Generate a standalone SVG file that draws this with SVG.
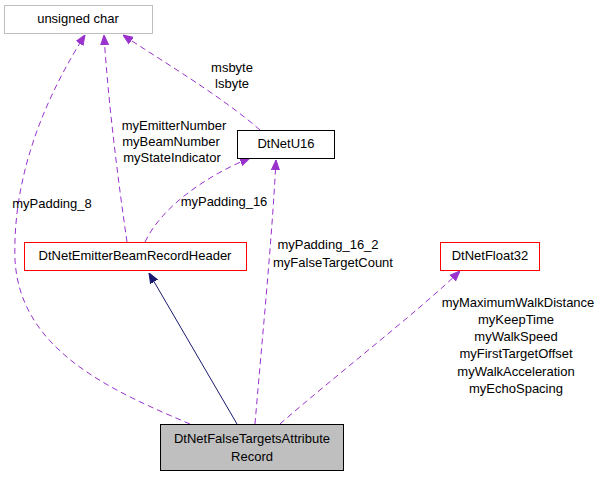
<svg xmlns="http://www.w3.org/2000/svg" width="603" height="477" viewBox="0 0 603 477">
<defs>
<marker id="pa" viewBox="0 0 10 10" refX="10" refY="5" markerWidth="10" markerHeight="10" markerUnits="userSpaceOnUse" orient="auto"><path d="M0,1 L10,5 L0,9 z" fill="#9a32cd" stroke="#9a32cd"/></marker>
<marker id="na" viewBox="0 0 10 10" refX="10" refY="5" markerWidth="10" markerHeight="10" markerUnits="userSpaceOnUse" orient="auto"><path d="M0,1 L10,5 L0,9 z" fill="#191970" stroke="#191970"/></marker>
</defs>
<style>
text{font-family:"Liberation Sans",Arial,sans-serif;font-size:13px;fill:#000}
.d{fill:none;stroke:#9a32cd;stroke-dasharray:6,4;marker-end:url(#pa)}
.s{fill:none;stroke:#191970;marker-end:url(#na)}
.m{text-anchor:middle}
</style>
<rect width="603" height="477" fill="#fff"/>
<g id="connectors">
<path class="s" d="M237,424 L149,273"/>
<path class="d" d="M190,424 C110,390 20,350 15,260 C12,170 50,90 85,35"/>
<path class="d" d="M127,242 C118,180 108,100 104,35"/>
<path class="d" d="M260,130 C220,95 160,60 123,35"/>
<path class="d" d="M145,242 C165,200 220,170 250,158"/>
<path class="d" d="M255,424 C262,340 272,240 276,160"/>
<path class="d" d="M280,424 C330,380 420,310 460,271"/>
<text x="232" y="72" class="m">msbyte</text>
<text x="232" y="88" class="m">lsbyte</text>
<text x="174" y="130" class="m">myEmitterNumber</text>
<text x="171" y="146" class="m">myBeamNumber</text>
<text x="172" y="162" class="m">myStateIndicator</text>
<text x="52" y="208" class="m">myPadding_8</text>
<text x="224" y="206" class="m">myPadding_16</text>
<text x="328" y="249" class="m">myPadding_16_2</text>
<text x="333" y="267" class="m">myFalseTargetCount</text>
<text x="518" y="307" class="m">myMaximumWalkDistance</text>
<text x="516" y="324" class="m">myKeepTime</text>
<text x="516" y="341" class="m">myWalkSpeed</text>
<text x="516" y="358" class="m">myFirstTargetOffset</text>
<text x="516" y="376" class="m">myWalkAcceleration</text>
<text x="516" y="393" class="m">myEchoSpacing</text>
</g>
<g id="unsigned_char"><rect x="4.5" y="5.5" width="148" height="28" fill="#fff" stroke="#bfbfbf"/><text x="78" y="23" class="m">unsigned char</text></g>
<g id="DtNetU16"><rect x="237.5" y="130.5" width="97" height="28" fill="#fff" stroke="#000"/><text x="286" y="148" class="m">DtNetU16</text></g>
<g id="DtNetEmitterBeamRecordHeader"><rect x="24.5" y="242.5" width="222" height="28" fill="#fff" stroke="#ff0000"/><text x="135" y="260" class="m">DtNetEmitterBeamRecordHeader</text></g>
<g id="DtNetFloat32"><rect x="440.5" y="242.5" width="99" height="28" fill="#fff" stroke="#ff0000"/><text x="490" y="260" class="m">DtNetFloat32</text></g>
<g id="DtNetFalseTargetsAttributeRecord"><rect x="160.5" y="424.5" width="183" height="46" fill="#bfbfbf" stroke="#000"/><text x="252" y="443" class="m">DtNetFalseTargetsAttribute</text><text x="252" y="461" class="m">Record</text></g>
</svg>
